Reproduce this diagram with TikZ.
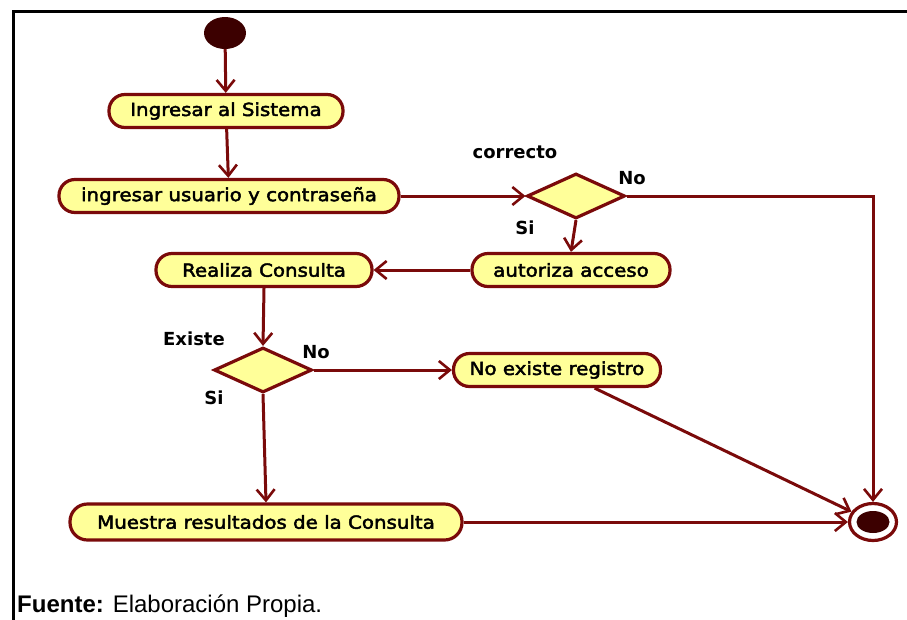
\documentclass[tikz,border=0pt]{standalone}
\usepackage{fontspec}
\setmainfont{DejaVu Sans}[FakeStretch=1.1,FakeBold=2.5]
\newfontfamily\labfont{DejaVu Sans}
\newfontfamily\capfont{Liberation Sans}
\usetikzlibrary{arrows.meta,shapes.geometric}
\definecolor{umlred}{HTML}{7A0A0A}
\definecolor{umlfill}{HTML}{FFFF99}
\definecolor{umldark}{HTML}{3C0000}
\begin{document}
\begin{tikzpicture}[x=1pt,y=-1pt,
  act/.style={draw=umlred, fill=umlfill, line width=3.2pt, rounded corners=16pt,
    minimum height=33pt, inner sep=0pt, font=\fontsize{18}{20}\selectfont},
  dec/.style={draw=umlred, fill=umlfill, line width=3.2pt, diamond, aspect=2.13,
    inner sep=0pt, minimum width=98pt, minimum height=45pt},
  flow/.style={draw=umlred, line width=3pt,
    -{Straight Barb[length=11pt,width=18pt,line width=2.6pt]}},
  guard/.style={font=\labfont\bfseries\fontsize{18}{20}\selectfont, text=black, inner sep=0pt},
]
\useasboundingbox (0,0) rectangle (907,619);
\clip (0,0) rectangle (907,619);

% frame
\draw[line width=3pt] (907,11) -- (13,11) -- (13,625);

% initial and final states
\node[ellipse, fill=umldark, minimum width=42pt, minimum height=32pt, inner sep=0pt] (start) at (225,33) {};
\node[ellipse, draw=umlred, fill=white, line width=3.2pt, minimum width=47pt, minimum height=37pt, inner sep=0pt] (fin) at (873,522) {};
\node[ellipse, fill=umldark, minimum width=33pt, minimum height=22pt, inner sep=0pt] (finc) at (fin) {};

% actions
\node[act, minimum width=234pt] (ing) at (226,111) {Ingresar al Sistema};
\node[act, minimum width=340pt] (cred) at (229,196) {ingresar usuario y contraseña};
\node[act, minimum width=216pt] (real) at (264,270) {Realiza Consulta};
\node[act, minimum width=198pt] (aut) at (571,270) {autoriza acceso};
\node[act, minimum width=207pt] (noex) at (557,370) {No existe registro};
\node[act, minimum width=392pt, minimum height=36pt, rounded corners=17.5pt] (mues) at (266,522) {Muestra resultados de la Consulta};

% decisions
\node[dec] (dia1) at (576,196) {};
\node[dec] (dia2) at (263,370) {};

% guards
\node[guard] (g1) at (515,152) {correcto};
\node[guard] (g2) at (632,178) {No};
\node[guard] (g3) at (525,228) {Si};
\node[guard] (g4) at (194,339) {Existe};
\node[guard] (g5) at (316,352) {No};
\node[guard] (g6) at (214,398) {Si};

% flows
\draw[flow] (start) -- (ing);
\draw[flow] (ing) -- (cred);
\draw[flow] (cred.east) -- (dia1.west);
\draw[flow] (dia1.east) -| (fin.north);
\draw[flow] (dia1.south) -- (aut.north);
\draw[flow] (aut.west) -- (real.east);
\draw[flow] (real.south) -- (dia2.north);
\draw[flow] (dia2.east) -- (noex.west);
\draw[flow] (dia2.south) -- (mues.north);
\draw[flow] (noex) -- (fin);
\draw[flow] (mues.east) -- (fin.west);

% source note
\node[anchor=base west, font=\capfont\fontsize{24}{26}\selectfont, inner sep=0pt] (src) at (17,612) {\textbf{Fuente:} Elaboración Propia.};
\end{tikzpicture}
\end{document}
